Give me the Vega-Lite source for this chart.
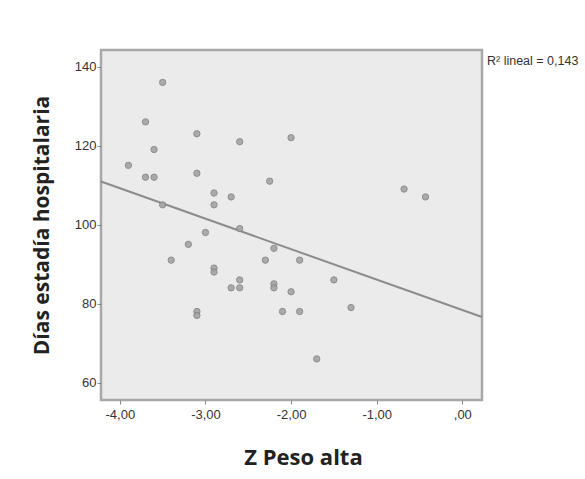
{
  "$schema": "https://vega.github.io/schema/vega-lite/v6.json",
  "width": 381,
  "height": 350,
  "autosize": "none",
  "padding": {"left": 101, "top": 50, "right": 103, "bottom": 79},
  "background": "white",
  "config": {
    "view": {"fill": "#ebebeb", "stroke": "#a8a8a8", "strokeWidth": 2.5},
    "axis": {
      "domain": false,
      "grid": false,
      "tickColor": "#888888",
      "tickSize": 4,
      "labelFont": "Liberation Sans",
      "labelFontSize": 13,
      "labelColor": "#333333",
      "titleFont": "Open Sans",
      "titleFontWeight": "bold",
      "titleColor": "#222222"
    }
  },
  "datasets": {
    "points": [
      {"z": -3.5, "dias": 136}, {"z": -3.7, "dias": 126}, {"z": -3.1, "dias": 123},
      {"z": -2.6, "dias": 121}, {"z": -2.0, "dias": 122}, {"z": -3.6, "dias": 119},
      {"z": -3.9, "dias": 115}, {"z": -3.7, "dias": 112}, {"z": -3.6, "dias": 112},
      {"z": -3.1, "dias": 113}, {"z": -2.25, "dias": 111}, {"z": -2.9, "dias": 108},
      {"z": -2.7, "dias": 107}, {"z": -2.9, "dias": 105}, {"z": -3.5, "dias": 105},
      {"z": -0.68, "dias": 109}, {"z": -0.43, "dias": 107}, {"z": -2.6, "dias": 99},
      {"z": -3.0, "dias": 98}, {"z": -3.2, "dias": 95}, {"z": -2.2, "dias": 94},
      {"z": -3.4, "dias": 91}, {"z": -2.3, "dias": 91}, {"z": -1.9, "dias": 91},
      {"z": -2.9, "dias": 89}, {"z": -2.9, "dias": 88}, {"z": -2.6, "dias": 86},
      {"z": -1.5, "dias": 86}, {"z": -2.7, "dias": 84}, {"z": -2.6, "dias": 84},
      {"z": -2.2, "dias": 85}, {"z": -2.2, "dias": 84}, {"z": -2.0, "dias": 83},
      {"z": -3.1, "dias": 78}, {"z": -3.1, "dias": 77}, {"z": -2.1, "dias": 78},
      {"z": -1.9, "dias": 78}, {"z": -1.3, "dias": 79}, {"z": -1.7, "dias": 66}
    ],
    "fit": [{"z": -4.22, "dias": 110.9}, {"z": 0.23, "dias": 76.6}],
    "note": [{"z": 0.23, "dias": 141.3, "t": "R² lineal = 0,143"}]
  },
  "layer": [
    {
      "data": {"name": "fit"},
      "mark": {"type": "line", "color": "#8c8c8c", "strokeWidth": 2},
      "encoding": {
        "x": {
          "field": "z", "type": "quantitative",
          "scale": {"domain": [-4.22, 0.23], "nice": false, "zero": false},
          "axis": {
            "values": [-4, -3, -2, -1, 0],
            "labelExpr": "datum.value == 0 ? ',00' : replace(replace(format(datum.value, '.2f'), '.', ','), '−', '-')",
            "title": "Z Peso alta",
            "titleFontSize": 22,
            "titlePadding": 26,
            "titleX": 202,
            "labelPadding": 4
          }
        },
        "y": {
          "field": "dias", "type": "quantitative",
          "scale": {"domain": [55.6, 144.2], "nice": false, "zero": false},
          "axis": {
            "values": [60, 80, 100, 120, 140],
            "title": "Días estadía hospitalaria",
            "titleFontSize": 21,
            "titlePadding": 22,
            "labelPadding": 1
          }
        }
      }
    },
    {
      "data": {"name": "points"},
      "mark": {"type": "point", "shape": "circle", "filled": true, "fill": "#a3a3a3", "stroke": "#858585", "strokeWidth": 1, "size": 40, "opacity": 0.9},
      "encoding": {
        "x": {"field": "z", "type": "quantitative"},
        "y": {"field": "dias", "type": "quantitative"}
      }
    },
    {
      "data": {"name": "note"},
      "mark": {"type": "text", "align": "left", "baseline": "middle", "dx": 5, "font": "Liberation Sans", "fontSize": 12.5, "color": "#333333"},
      "encoding": {
        "x": {"field": "z", "type": "quantitative"},
        "y": {"field": "dias", "type": "quantitative"},
        "text": {"field": "t"}
      }
    }
  ]
}
